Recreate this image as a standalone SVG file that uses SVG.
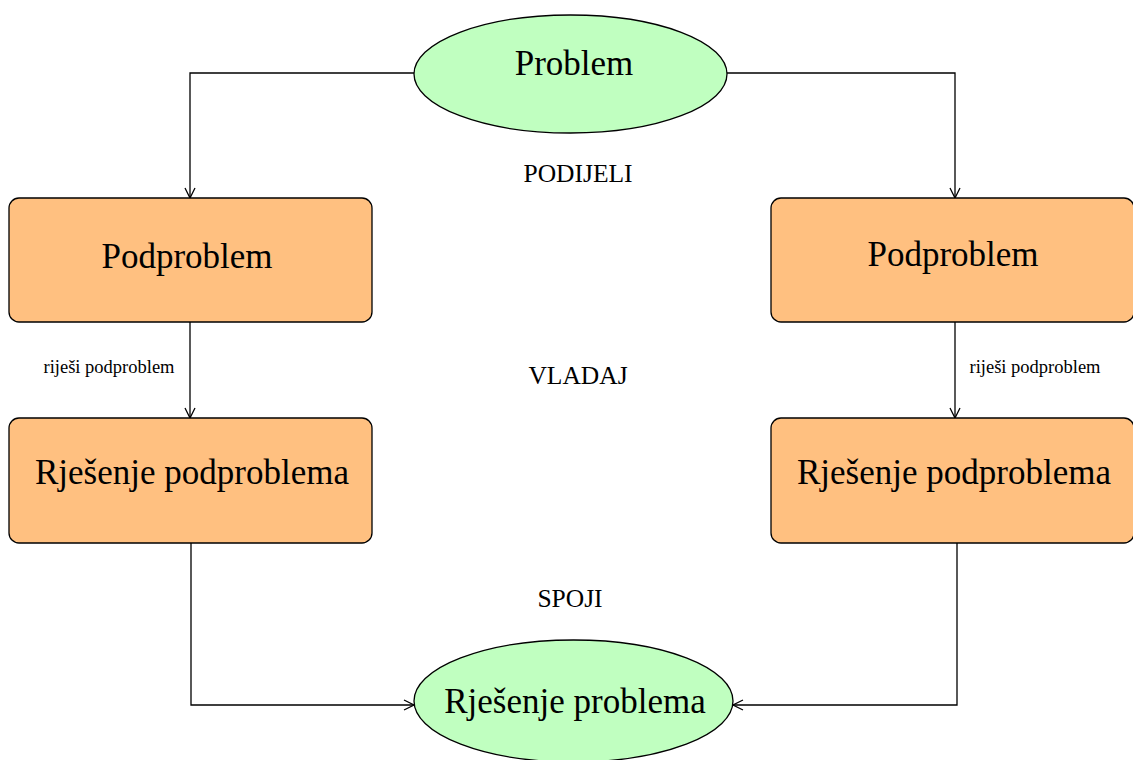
<svg xmlns="http://www.w3.org/2000/svg" width="1133" height="760" viewBox="0 0 1133 760">
<defs>
<style>
.ell{fill:#c0ffc0;stroke:#000;stroke-width:1.3}
.box{fill:#ffc080;stroke:#000;stroke-width:1.3}
.big{font-family:"Liberation Serif",serif;font-size:35px;fill:#000;text-anchor:middle}
.mid{font-family:"Liberation Serif",serif;font-size:25.500px;fill:#000;text-anchor:middle}
.sm{font-family:"Liberation Serif",serif;font-size:18.500px;fill:#000;text-anchor:middle}
.con{fill:none;stroke:#000;stroke-width:1.3;marker-end:url(#arr)}
</style>
<marker id="arr" viewBox="0 0 12 12" refX="11" refY="6" markerWidth="12" markerHeight="12" markerUnits="userSpaceOnUse" orient="auto">
<path d="M1,1 L11,6 L1,11" fill="none" stroke="#000" stroke-width="1.3"/>
</marker>
</defs>
<rect width="1133" height="760" fill="#fff"/>
<g id="connectors">
<path class="con" d="M414,73 H190 V198"/>
<path class="con" d="M727,73 H955 V198"/>
<path class="con" d="M190,322 V418"/>
<path class="con" d="M955,322 V418"/>
<path class="con" d="M191,543 V705 H414"/>
<path class="con" d="M957,543 V705 H733"/>
</g>
<g id="problem">
<ellipse class="ell" cx="570.500" cy="74" rx="156.500" ry="59"/>
<text class="big" x="574" y="75">Problem</text>
</g>
<g id="podproblem-left">
<rect class="box" x="9" y="198" width="363" height="124" rx="10"/>
<text class="big" x="187" y="268">Podproblem</text>
</g>
<g id="podproblem-right">
<rect class="box" x="771" y="198" width="363" height="124" rx="10"/>
<text class="big" x="953" y="266">Podproblem</text>
</g>
<g id="rjesenje-left">
<rect class="box" x="9" y="418" width="363" height="125" rx="10"/>
<text class="big" x="192" y="484">Rješenje podproblema</text>
</g>
<g id="rjesenje-right">
<rect class="box" x="771" y="418" width="363" height="125" rx="10"/>
<text class="big" x="954" y="484">Rješenje podproblema</text>
</g>
<g id="rjesenje-problema">
<ellipse class="ell" cx="573.500" cy="701" rx="159.500" ry="61"/>
<text class="big" x="575" y="713">Rješenje problema</text>
</g>
<g id="labels">
<text class="mid" x="578" y="182">PODIJELI</text>
<text class="mid" x="578" y="384">VLADAJ</text>
<text class="mid" x="570" y="607">SPOJI</text>
<text class="sm" x="109" y="373">riješi podproblem</text>
<text class="sm" x="1035" y="373">riješi podproblem</text>
</g>
</svg>
